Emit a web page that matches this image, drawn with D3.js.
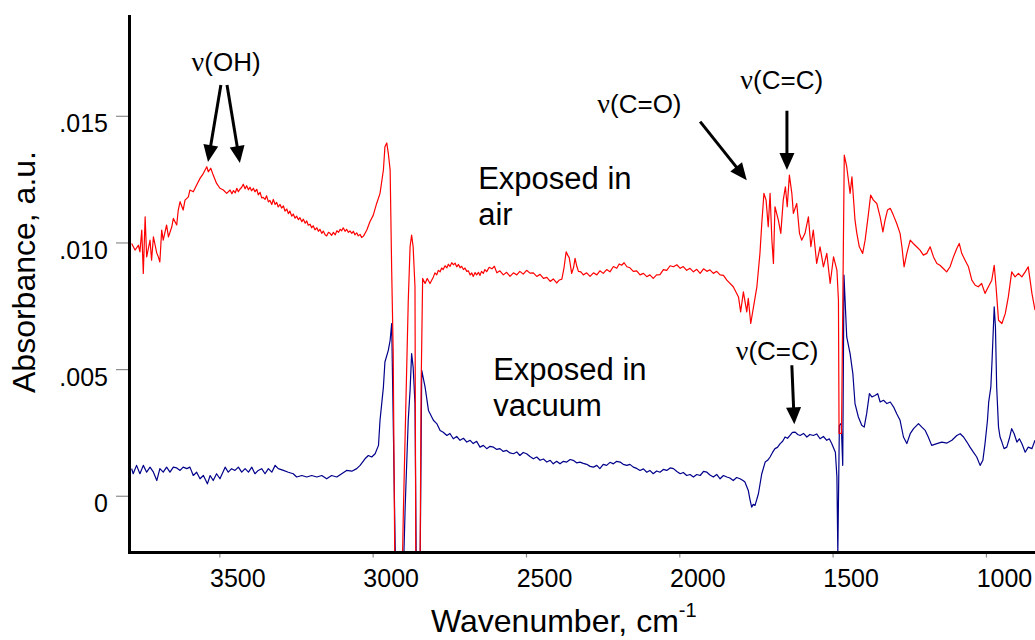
<!DOCTYPE html>
<html>
<head>
<meta charset="utf-8">
<script src="https://cdn.jsdelivr.net/npm/d3@7"></script>
<style>
  body { margin: 0; background: #fff; }
  svg { display: block; font-family: "Liberation Sans", Arial, sans-serif; }
</style>
</head>
<body>
<svg width="1035" height="640"></svg>
<script>
// axis ticks
const xTicks = [3500, 3000, 2500, 2000, 1500, 1000];
const yTicks = [0, 0.005, 0.010, 0.015];

// [wavenumber cm-1, absorbance]
const airSpectrum = [
  [3786,.00996],[3775,.00970],[3764,.00989],[3759,.00963],[3753,.01049],[3748,.00878],[3742,.01101],[3737,.00943],
  [3726,.01009],[3721,.00930],[3715,.01022],[3704,.00958],[3699,.00943],[3694,.00923],[3688,.01049],[3683,.01009],
  [3672,.01069],[3666,.01022],[3655,.01062],[3650,.01095],[3639,.01069],[3634,.01128],[3628,.01161],[3618,.01128],
  [3612,.01167],[3601,.01180],[3596,.01207],[3585,.01200],[3574,.01227],[3563,.01253],[3552,.01273],[3541,.01299],
  [3536,.01279],[3528,.01293],[3520,.01266],[3509,.01233],[3498,.01214],[3487,.01207],[3476,.01194],
  [3465,.01207],[3459,.01192],[3454,.01205],[3448,.01196],[3443,.01214],[3438,.01200],[3433,.01210],[3427,.01218],
  [3422,.01230],[3416,.01212],[3411,.01224],[3405,.01208],[3400,.01218],[3395,.01204],[3389,.01214],[3384,.01200],
  [3378,.01210],[3373,.01188],[3367,.01198],[3362,.01176],[3357,.01178],[3351,.01170],[3346,.01184],[3340,.01160],
  [3335,.01166],[3329,.01150],[3324,.01170],[3318,.01150],[3313,.01158],[3308,.01140],[3302,.01150],[3297,.01136],
  [3291,.01144],[3286,.01124],[3280,.01132],[3275,.01114],[3270,.01124],[3264,.01104],[3259,.01112],[3253,.01096],
  [3248,.01104],[3242,.01090],[3237,.01098],[3231,.01082],[3226,.01092],[3220,.01076],[3215,.01085],[3210,.01068],
  [3204,.01072],[3199,.01058],[3194,.01066],[3188,.01050],[3182,.01058],[3177,.01044],[3172,.01052],[3166,.01036],
  [3161,.01045],[3155,.01030],[3150,.01026],[3144,.01040],[3139,.01036],[3134,.01028],[3128,.01040],[3122,.01030],
  [3117,.01046],[3111,.01040],[3106,.01052],[3101,.01046],[3096,.01058],[3090,.01044],[3085,.01052],[3079,.01040],
  [3074,.01046],[3068,.01036],[3063,.01044],[3058,.01030],[3052,.01038],[3047,.01026],[3041,.01032],[3036,.01020],
  [3030,.01025],
  [3019,.01049],[3009,.01082],[2998,.01108],[2987,.01154],[2976,.01194],[2965,.01286],[2960,.01378],[2954,.01393],
  [2949,.01352],[2943,.01286],[2938,.00891],[2933,.00563],[2927,-.004],[2905,-.004],[2900,-.00070],[2884,.00765],
  [2878,.00983],[2873,.01029],[2868,.00983],[2862,.00825],[2859,-.004],[2846,-.004],[2842,.00429],[2837,.00858],
  [2829,.00838],[2822,.00858],[2813,.00838],
  [2802,.00864],[2797,.00880],[2791,.00872],[2786,.00890],[2780,.00884],[2775,.00899],[2770,.00893],[2764,.00908],
  [2758,.00900],[2753,.00914],[2748,.00905],[2742,.00920],[2737,.00912],[2731,.00918],[2726,.00904],[2720,.00913],
  [2715,.00900],[2710,.00906],[2704,.00893],[2699,.00899],[2693,.00886],[2688,.00888],[2682,.00872],[2677,.00880],
  [2672,.00866],[2666,.00881],[2661,.00872],[2655,.00882],[2650,.00870],[2645,.00886],[2639,.00878],[2634,.00893],
  [2628,.00885],[2620,.00902],[2611,.00896],[2603,.00906],[2595,.00880],[2585,.00888],[2574,.00872],[2563,.00882],
  [2552,.00866],[2541,.00880],[2530,.00872],[2520,.00886],[2509,.00875],[2498,.00890],[2487,.00879],[2476,.00880],
  [2465,.00866],[2454,.00874],[2443,.00858],[2432,.00862],[2421,.00846],[2411,.00856],[2400,.00840],[2391,.00852],
  [2383,.00855],[2376,.00900],[2369,.00963],[2364,.00950],[2359,.00940],[2351,.00878],[2345,.00900],[2340,.00937],
  [2334,.00905],[2329,.00886],[2321,.00884],[2313,.00872],[2302,.00880],[2291,.00866],[2280,.00880],[2269,.00872],
  [2259,.00888],[2248,.00878],[2237,.00893],[2226,.00884],[2215,.00905],[2204,.00898],[2196,.00915],[2188,.00910],
  [2180,.00920],[2171,.00904],[2161,.00900],[2150,.00886],[2139,.00888],[2128,.00872],[2117,.00878],[2106,.00865],
  [2096,.00872],[2085,.00858],[2074,.00872],[2063,.00873],[2052,.00893],[2041,.00890],[2030,.00908],[2019,.00904],
  [2008,.00912],[1997,.00898],[1987,.00905],[1976,.00890],[1965,.00898],[1954,.00884],[1943,.00894],[1932,.00878],
  [1921,.00896],[1910,.00886],[1900,.00892],[1889,.00878],[1878,.00886],[1867,.00872],[1856,.00870],
  [1845,.00851],[1824,.00825],[1807,.00785],[1800,.00726],[1791,.00805],
  [1780,.00726],[1775,.00779],[1767,.00680],[1758,.00746],[1747,.00825],[1737,.00957],[1731,.01075],[1724,.01194],
  [1717,.01167],[1710,.01062],[1704,.01194],[1698,.01009],[1693,.00917],[1688,.01141],[1677,.01088],[1669,.01036],
  [1661,.01167],[1654,.01220],[1648,.01141],[1641,.01266],[1633,.01194],[1628,.01115],[1617,.01154],[1608,.01036],
  [1601,.01009],[1590,.01036],[1579,.01101],[1571,.00983],[1563,.01049],[1552,.00917],[1541,.00983],[1530,.00904],
  [1519,.00957],[1508,.00838],[1497,.00943],[1486,.00891],[1481,.00772],[1479,.00246],[1471,.00246],[1462,.01345],
  [1454,.01299],[1443,.01194],[1437,.01259],[1432,.01174],[1427,.01088],[1421,.01036],[1413,.00983],[1402,.00957],
  [1394,.01009],[1383,.01115],[1376,.01187],[1367,.01167],[1356,.01154],[1345,.01101],[1336,.01042],[1329,.01088],
  [1321,.01128],[1312,.01135],[1302,.01108],[1291,.01075],[1280,.01036],[1274,.00983],[1267,.00904],[1258,.00957],
  [1247,.01009],[1237,.00996],[1226,.00983],[1215,.00970],[1204,.00950],[1193,.00957],[1182,.00983],[1171,.00943],
  [1160,.00917],[1150,.00910],[1139,.00897],[1128,.00884],[1117,.00904],[1106,.00943],[1095,.00976],[1087,.00996],
  [1079,.00957],[1068,.00930],[1057,.00904],[1046,.00851],[1035,.00831],[1025,.00825],[1014,.00838],[1003,.00799],
  [992,.00825],[981,.00851],[973,.00910],[967,.00825],[959,.00693],[948,.00680],[937,.00719],[927,.00785],
  [916,.00884],[905,.00864],[894,.00878],[883,.00864],[872,.00884],[862,.00904],[856,.00851],[850,.00799],[840,.00733]
];

const vacuumSpectrum = [
  [3786,.00107],[3781,.00087],[3770,.00120],[3759,.00087],[3748,.00120],[3737,.00093],[3726,.00113],[3715,.00093],
  [3704,.00060],[3694,.00107],[3683,.00093],[3672,.00113],[3661,.00093],[3650,.00113],[3639,.00110],[3628,.00100],
  [3618,.00113],[3606,.00107],[3596,.00113],[3585,.00080],[3574,.00093],[3563,.00067],[3552,.00080],[3539,.00047],
  [3530,.00080],[3520,.00060],[3509,.00087],[3498,.00067],[3481,.00113],[3471,.00093],[3460,.00107],[3449,.00100],
  [3438,.00113],[3427,.00093],[3416,.00107],[3405,.00093],[3394,.00113],[3384,.00087],[3373,.00100],[3362,.00107],
  [3351,.00087],[3340,.00107],[3329,.00093],[3318,.00120],[3308,.00107],[3291,.00100],[3275,.00093],[3259,.00087],
  [3248,.00074],[3231,.00080],[3215,.00074],[3199,.00080],[3182,.00074],[3166,.00080],[3150,.00067],[3134,.00080],
  [3117,.00074],[3101,.00087],[3085,.00100],[3068,.00097],[3052,.00107],[3041,.00120],[3025,.00146],[3014,.00159],
  [3003,.00153],[2992,.00166],[2981,.00199],[2976,.00298],[2965,.00429],[2960,.00528],[2949,.00574],[2943,.00614],
  [2938,.00680],[2933,.00298],[2924,-.004],[2902,-.004],[2894,-.00045],[2884,.00298],[2878,.00416],[2873,.00561],
  [2868,.00508],[2862,.00364],[2857,-.004],[2846,-.004],[2840,.00495],[2829,.00429],[2818,.00337],[2802,.00298],
  [2791,.00285],[2780,.00258],[2770,.00251],[2758,.00238],[2748,.00246],[2737,.00225],[2726,.00234],[2715,.00219],
  [2704,.00227],[2693,.00212],[2682,.00219],[2672,.00206],[2661,.00215],[2650,.00192],[2639,.00199],[2628,.00186],
  [2617,.00195],[2606,.00192],[2595,.00183],[2585,.00186],[2574,.00175],[2563,.00179],[2552,.00169],[2541,.00166],
  [2530,.00173],[2520,.00159],[2509,.00171],[2498,.00166],[2487,.00155],[2476,.00146],[2465,.00153],[2454,.00140],
  [2443,.00145],[2432,.00133],[2421,.00140],[2411,.00126],[2400,.00136],[2389,.00126],[2378,.00136],[2367,.00133],
  [2356,.00143],[2346,.00140],[2335,.00130],[2324,.00133],[2313,.00128],[2302,.00124],[2291,.00116],[2280,.00113],
  [2269,.00120],[2259,.00107],[2248,.00124],[2237,.00120],[2226,.00132],[2215,.00126],[2204,.00136],[2193,.00133],
  [2183,.00124],[2171,.00120],[2161,.00124],[2150,.00113],[2139,.00108],[2128,.00100],[2117,.00106],[2106,.00093],
  [2096,.00100],[2085,.00087],[2074,.00098],[2063,.00093],[2052,.00104],[2041,.00100],[2030,.00110],[2019,.00107],
  [2008,.00096],[1997,.00087],[1987,.00092],[1976,.00080],[1965,.00084],[1954,.00074],[1943,.00084],[1932,.00080],
  [1921,.00096],[1910,.00093],[1900,.00082],[1889,.00074],[1878,.00084],[1867,.00067],[1856,.00080],[1845,.00074],
  [1835,.00070],[1824,.00060],[1813,.00072],[1802,.00067],[1791,.00059],[1786,.00054],[1775,.00021],[1770,-.00012],
  [1764,-.00045],[1759,-.00034],[1753,-.00038],[1742,.00008],[1731,.00087],[1720,.00133],[1712,.00140],[1704,.00153],
  [1696,.00171],[1688,.00186],[1680,.00191],[1671,.00206],[1663,.00215],[1655,.00232],[1647,.00227],[1639,.00238],
  [1631,.00250],[1622,.00251],[1614,.00242],[1606,.00238],[1595,.00246],[1584,.00232],[1574,.00242],[1563,.00238],
  [1552,.00244],[1541,.00225],[1530,.00234],[1519,.00219],[1511,.00225],[1503,.00206],[1491,.00172],[1486,.00074],
  [1483,-.0023],[1478,.00278],[1472,.00286],[1467,.00120],[1463,.00871],[1454,.00627],[1443,.00561],[1434,.00482],
  [1427,.00364],[1416,.00311],[1405,.00278],[1397,.00271],[1389,.00324],[1380,.00403],[1372,.00390],[1362,.00396],
  [1353,.00403],[1345,.00370],[1334,.00377],[1323,.00364],[1312,.00370],[1301,.00350],[1291,.00324],[1280,.00298],
  [1269,.00232],[1258,.00206],[1247,.00245],[1236,.00265],[1220,.00285],[1209,.00271],[1198,.00258],[1188,.00232],
  [1177,.00199],[1160,.00206],[1144,.00212],[1127,.00208],[1111,.00219],[1095,.00238],[1084,.00245],[1073,.00232],
  [1062,.00212],[1052,.00192],[1041,.00172],[1030,.00153],[1019,.00120],[1010,.00140],[1003,.00206],[995,.00298],
  [991,.00370],[984,.00429],[980,.00535],[973,.00746],[969,.00666],[965,.00429],[959,.00271],[954,.00232],
  [948,.00212],[941,.00186],[932,.00192],[924,.00225],[916,.00265],[908,.00245],[899,.00212],[891,.00225],
  [883,.00206],[872,.00172],[862,.00192],[850,.00186],[840,.00219]
];

// band assignments, placed in data coordinates
const bandLabels = [
  { name: "(OH)", wn: 3478, abs: .01675 },
  { name: "(C=O)", wn: 2130, abs: .01511 },
  { name: "(C=C)", wn: 1666, abs: .01605 },
  { name: "(C=C)", wn: 1681, abs: .00535 }
];
const bandArrows = [
  { from: [3495, .01622], to: [3537, .01318] },
  { from: [3475, .01622], to: [3433, .01314] },
  { from: [1932, .01477], to: [1780, .01246] },
  { from: [1649, .01520], to: [1649, .01286] },
  { from: [1633, .00515], to: [1625, .00282] }
];
const sampleLabels = [
  { lines: ["Exposed in", "air"], wn: 2656, abs: .01211 },
  { lines: ["Exposed in", "vacuum"], wn: 2607, abs: .00456 }
];

const plot = { left: 129.5, right: 1035, top: 15, bottom: 552.5 };

const svg = d3.select("svg");

const x = d3.scaleLinear().domain([3793, 840]).range([plot.left, plot.right]);
const y = d3.scaleLinear().domain([-0.00224, 0.01898]).range([plot.bottom, plot.top]);

svg.append("defs").append("clipPath")
  .attr("id", "plot-clip")
  .append("rect")
  .attr("x", plot.left)
  .attr("y", plot.top)
  .attr("width", plot.right - plot.left)
  .attr("height", plot.bottom - plot.top);

// y axis ticks and labels
const yAxis = svg.append("g")
  .attr("transform", `translate(${plot.left},0)`)
  .call(d3.axisLeft(y)
    .tickValues(yTicks)
    .tickSize(13.5)
    .tickPadding(8)
    .tickFormat(d => d === 0 ? "0" : d3.format(".3f")(d).replace(/^0/, "")));
yAxis.select(".domain").remove();
yAxis.selectAll(".tick line").attr("stroke", "#8c8c8c").attr("stroke-width", 1.2);
yAxis.selectAll(".tick text")
  .attr("y", 8)
  .attr("fill", "#000")
  .style("font-size", "25px")
  .style("font-family", "'Liberation Sans', Arial, sans-serif");

// x axis ticks and labels (labels sit a little right of their ticks)
const xAxis = svg.append("g")
  .attr("transform", `translate(0,${plot.bottom})`)
  .call(d3.axisBottom(x)
    .tickValues(xTicks)
    .tickSize(5)
    .tickPadding(11.5)
    .tickFormat(d3.format("d")));
xAxis.select(".domain").remove();
xAxis.selectAll(".tick line").attr("stroke", "#8c8c8c").attr("stroke-width", 1.2);
xAxis.selectAll(".tick text")
  .attr("x", 18)
  .attr("fill", "#000")
  .style("font-size", "25px")
  .style("font-family", "'Liberation Sans', Arial, sans-serif");

// spectra
const line = d3.line()
  .x(d => x(d[0]))
  .y(d => y(d[1]));

const traces = svg.append("g").attr("clip-path", "url(#plot-clip)");

traces.append("path")
  .datum(vacuumSpectrum)
  .attr("fill", "none")
  .attr("stroke", "#00008b")
  .attr("stroke-width", 1.2)
  .attr("stroke-linejoin", "round")
  .attr("d", line);

traces.append("path")
  .datum(airSpectrum)
  .attr("fill", "none")
  .attr("stroke", "#ff0000")
  .attr("stroke-width", 1.2)
  .attr("stroke-linejoin", "round")
  .attr("d", line);

// axis lines
svg.append("line")
  .attr("x1", plot.left).attr("x2", plot.left)
  .attr("y1", plot.top).attr("y2", plot.bottom + 1.5)
  .attr("stroke", "#000").attr("stroke-width", 3);
svg.append("line")
  .attr("x1", plot.left - 1.5).attr("x2", plot.right)
  .attr("y1", plot.bottom).attr("y2", plot.bottom)
  .attr("stroke", "#000").attr("stroke-width", 3);

// axis titles
svg.append("text")
  .attr("transform", "rotate(-90)")
  .attr("x", -272)
  .attr("y", 35)
  .attr("text-anchor", "middle")
  .style("font-size", "32px")
  .text("Absorbance, a.u.");

const xTitle = svg.append("text")
  .attr("x", 431)
  .attr("y", 632)
  .style("font-size", "32px")
  .text("Wavenumber, cm");
xTitle.append("tspan")
  .attr("dy", -15)
  .style("font-size", "20px")
  .text("-1");

// annotations
const notes = svg.append("g");

sampleLabels.forEach(s => {
  const t = notes.append("text")
    .attr("x", x(s.wn))
    .attr("y", y(s.abs))
    .style("font-size", "31px");
  s.lines.forEach((l, i) => {
    t.append("tspan")
      .attr("x", x(s.wn))
      .attr("dy", i === 0 ? 0 : 35.7)
      .text(l);
  });
});

bandLabels.forEach(b => {
  const t = notes.append("text")
    .attr("x", x(b.wn))
    .attr("y", y(b.abs))
    .attr("text-anchor", "middle")
    .style("font-size", "26px");
  t.append("tspan")
    .style("font-family", "'Liberation Serif', 'Times New Roman', serif")
    .style("font-size", "28px")
    .text("\u03bd");
  t.append("tspan").text(b.name);
});

bandArrows.forEach(a => {
  const x1 = x(a.from[0]), y1 = y(a.from[1]);
  const x2 = x(a.to[0]), y2 = y(a.to[1]);
  const len = Math.hypot(x2 - x1, y2 - y1);
  const ux = (x2 - x1) / len, uy = (y2 - y1) / len;
  const headLen = 17, headHalf = 7.5;
  const bx = x2 - ux * headLen, by = y2 - uy * headLen;

  notes.append("line")
    .attr("x1", x1).attr("y1", y1)
    .attr("x2", bx + ux * 2).attr("y2", by + uy * 2)
    .attr("stroke", "#000")
    .attr("stroke-width", 3);

  notes.append("polygon")
    .attr("points", [
      [x2, y2],
      [bx - uy * headHalf, by + ux * headHalf],
      [bx + uy * headHalf, by - ux * headHalf]
    ].map(p => p.join(",")).join(" "))
    .attr("fill", "#000");
});
</script>
</body>
</html>
